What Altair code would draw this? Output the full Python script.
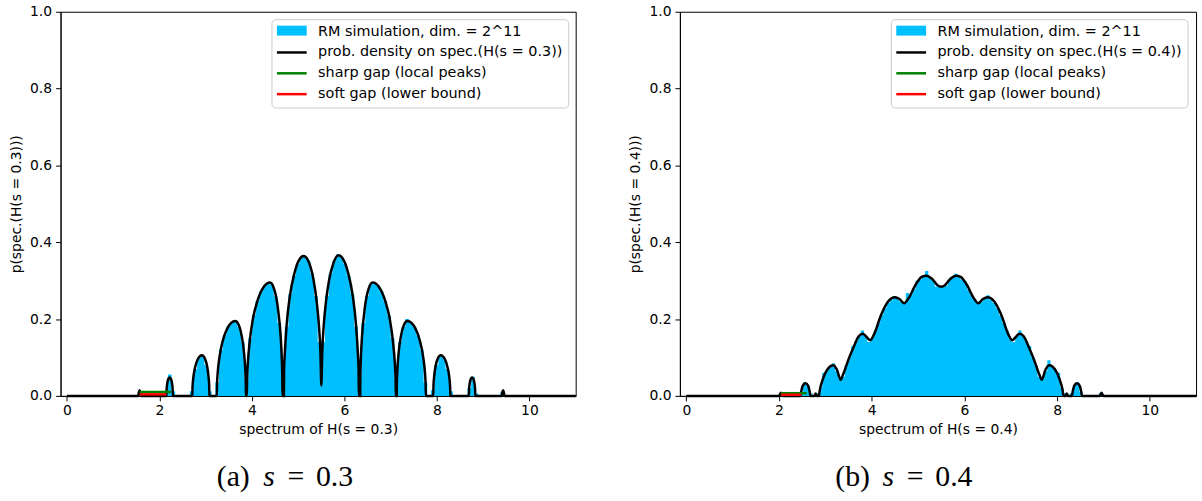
import altair as alt
import pandas as pd

# ---------------- panel (a): s = 0.3 ----------------
A_S = "0.3"
A_BIN_START = 1.55
A_BIN_WIDTH = 0.079
A_HIST = [
    0.006, 0, 0, 0, 0, 0, 0, 0.012, 0.056, 0.012,
    0, 0, 0, 0, 0.012, 0.07, 0.10, 0.104, 0.08, 0.012,
    0, 0.035, 0.12, 0.158, 0.18, 0.192, 0.196, 0.18, 0.14, 0.04,
    0.15, 0.21, 0.247, 0.272, 0.288, 0.294, 0.29, 0.26, 0.19, 0.05,
    0.18, 0.265, 0.313, 0.344, 0.36, 0.362, 0.352, 0.318, 0.26, 0.14,
    0.14, 0.26, 0.318, 0.352, 0.368, 0.362, 0.344, 0.313, 0.265, 0.18,
    0.05, 0.19, 0.26, 0.29, 0.294, 0.288, 0.272, 0.247, 0.21, 0.15,
    0.04, 0.14, 0.18, 0.20, 0.192, 0.18, 0.158, 0.12, 0.035, 0,
    0.015, 0.08, 0.104, 0.10, 0.07, 0.012, 0, 0, 0, 0,
    0.02, 0.05, 0.006, 0, 0, 0, 0, 0, 0, 0.01,
]
A_CURVE_X = [
    0.0, 1.54, 1.555, 1.57, 1.585, 1.60,
    2.15, 2.155, 2.17, 2.195, 2.22, 2.245, 2.27, 2.285, 2.29,
    2.71, 2.715, 2.73, 2.77, 2.83, 2.92, 2.98, 3.03, 3.06, 3.075, 3.08,
    3.24, 3.245, 3.26, 3.30, 3.37, 3.46, 3.55, 3.64, 3.72, 3.78, 3.83, 3.855, 3.868, 3.87,
    3.89, 3.895, 3.91, 3.95, 4.02, 4.12, 4.25, 4.39, 4.48, 4.56, 4.62, 4.645, 4.657, 4.66,
    4.69, 4.695, 4.71, 4.75, 4.82, 4.92, 5.02, 5.12, 5.24, 5.33, 5.40, 5.45, 5.48, 5.50,
    5.52, 5.55, 5.60, 5.67, 5.76, 5.87, 5.98, 6.08, 6.18, 6.25, 6.29, 6.305, 6.31,
    6.34, 6.343, 6.355, 6.38, 6.44, 6.52, 6.61, 6.75, 6.88, 6.98, 7.05, 7.09, 7.105, 7.11,
    7.13, 7.132, 7.145, 7.17, 7.22, 7.28, 7.36, 7.45, 7.54, 7.63, 7.70, 7.74, 7.755, 7.76,
    7.92, 7.925, 7.94, 7.97, 8.02, 8.08, 8.17, 8.23, 8.27, 8.285, 8.29,
    8.69, 8.695, 8.71, 8.735, 8.76, 8.785, 8.81, 8.825, 8.83,
    9.40, 9.415, 9.43, 9.445, 9.46, 11.0,
]
A_CURVE_Y = [
    0, 0, 0.010, 0.015, 0.010, 0,
    0, 0.018, 0.034, 0.045, 0.048, 0.045, 0.034, 0.018, 0,
    0, 0.023, 0.045, 0.074, 0.096, 0.106, 0.098, 0.077, 0.051, 0.026, 0,
    0, 0.031, 0.061, 0.103, 0.144, 0.174, 0.19, 0.195, 0.183, 0.155, 0.11, 0.069, 0.026, 0,
    0, 0.045, 0.083, 0.14, 0.20, 0.248, 0.283, 0.295, 0.278, 0.229, 0.155, 0.097, 0.044, 0,
    0, 0.07, 0.11, 0.185, 0.26, 0.32, 0.354, 0.364, 0.345, 0.303, 0.245, 0.18, 0.115, 0.027,
    0.115, 0.18, 0.245, 0.303, 0.345, 0.366, 0.354, 0.32, 0.26, 0.185, 0.11, 0.07, 0,
    0, 0.044, 0.097, 0.155, 0.229, 0.278, 0.295, 0.283, 0.248, 0.20, 0.14, 0.083, 0.045, 0,
    0, 0.026, 0.069, 0.11, 0.155, 0.183, 0.195, 0.19, 0.174, 0.144, 0.103, 0.061, 0.031, 0,
    0, 0.026, 0.051, 0.077, 0.098, 0.106, 0.096, 0.074, 0.045, 0.023, 0,
    0, 0.018, 0.034, 0.045, 0.048, 0.045, 0.034, 0.018, 0,
    0, 0.010, 0.015, 0.010, 0, 0,
]
A_SHARP_X = [1.57, 2.25]
A_SHARP_Y = [0.010, 0.010]
A_SOFT_X = [1.57, 2.15]
A_SOFT_Y = [0.004, 0.004]

# ---------------- panel (b): s = 0.4 ----------------
B_S = "0.4"
B_BIN_START = 2.03
B_BIN_WIDTH = 0.0694
B_HIST = [
    0.007, 0, 0, 0, 0, 0, 0.01, 0.035, 0.028, 0.007,
    0, 0.007, 0.022, 0.06, 0.068, 0.076, 0.085, 0.065, 0.045, 0.05,
    0.08, 0.10, 0.13, 0.142, 0.155, 0.17, 0.155, 0.14, 0.15, 0.17,
    0.19, 0.21, 0.228, 0.242, 0.25, 0.26, 0.254, 0.245, 0.243, 0.268,
    0.262, 0.277, 0.30, 0.303, 0.31, 0.325, 0.31, 0.302, 0.285, 0.285,
    0.285, 0.287, 0.302, 0.31, 0.318, 0.31, 0.303, 0.298, 0.277, 0.262,
    0.25, 0.243, 0.245, 0.254, 0.262, 0.25, 0.242, 0.228, 0.21, 0.19,
    0.17, 0.15, 0.14, 0.155, 0.17, 0.155, 0.142, 0.13, 0.10, 0.08,
    0.05, 0.045, 0.065, 0.093, 0.076, 0.068, 0.06, 0.022, 0.007, 0,
    0.007, 0.028, 0.035, 0.01, 0, 0, 0, 0, 0, 0.007,
]
B_CURVE_X = [
    0.0, 2.00, 2.02, 2.04, 2.06, 2.08,
    2.46, 2.48, 2.51, 2.57, 2.63, 2.66, 2.68,
    2.76, 2.79, 2.82, 2.86,
    2.88, 2.95, 3.05, 3.17, 3.25, 3.33, 3.38, 3.50, 3.62, 3.72, 3.81, 3.90, 3.97,
    4.05, 4.20, 4.35, 4.50, 4.60, 4.70, 4.80, 4.95, 5.08, 5.18, 5.30, 5.42, 5.50,
    5.58, 5.70, 5.82, 5.92, 6.05, 6.20, 6.30, 6.40, 6.50, 6.65, 6.80, 6.95, 7.03,
    7.10, 7.19, 7.28, 7.38, 7.50, 7.62, 7.67, 7.75, 7.83, 7.95, 8.05, 8.12, 8.14,
    8.18, 8.21, 8.24, 8.32, 8.34, 8.37, 8.43, 8.49, 8.52, 8.54,
    8.92, 8.94, 8.96, 8.98, 9.00, 11.0,
]
B_CURVE_Y = [
    0, 0, 0.004, 0.008, 0.004, 0,
    0, 0.012, 0.026, 0.033, 0.026, 0.012, 0,
    0, 0.006, 0, 0,
    0.015, 0.045, 0.07, 0.08, 0.068, 0.042, 0.055, 0.095, 0.13, 0.155, 0.162, 0.152, 0.145,
    0.16, 0.21, 0.245, 0.257, 0.252, 0.241, 0.255, 0.29, 0.31, 0.313, 0.305, 0.288, 0.284,
    0.288, 0.305, 0.313, 0.31, 0.29, 0.255, 0.241, 0.252, 0.257, 0.245, 0.21, 0.16, 0.145,
    0.152, 0.162, 0.155, 0.13, 0.095, 0.055, 0.042, 0.068, 0.08, 0.07, 0.045, 0.015, 0,
    0, 0.006, 0, 0, 0.012, 0.026, 0.033, 0.026, 0.012, 0,
    0, 0.004, 0.008, 0.004, 0, 0,
]
B_SHARP_X = [2.04, 2.60]
B_SHARP_Y = [0.007, 0.007]
B_SOFT_X = [2.04, 2.48]
B_SOFT_Y = [0.003, 0.003]

LEGEND_LABELS = [
    "RM simulation, dim. = 2^11",
    "prob. density on spec.(H(s = {s}))",
    "sharp gap (local peaks)",
    "soft gap (lower bound)",
]
X_TICKS = [0, 2, 4, 6, 8, 10]
Y_TICKS = [0.0, 0.2, 0.4, 0.6, 0.8, 1.0]
X_DOMAIN = [-0.139, 11.0]
Y_DOMAIN = [0.0, 1.0]

BLUE = "#00BFFF"
FONT = "DejaVu Sans"
H = 387


def panel(letter, s, bin_start, bin_width, hist, cx, cy, shx, shy, sox, soy, width):
    n = len(hist)
    # step outline of the histogram: each bin start, plus the closing edge
    hist_df = pd.DataFrame({
        "x": [bin_start + i * bin_width for i in range(n + 1)],
        "y": list(hist) + [hist[-1]],
    })
    curve_df = pd.DataFrame({"x": cx, "y": cy})
    sharp_df = pd.DataFrame({"x": shx, "y": shy})
    soft_df = pd.DataFrame({"x": sox, "y": soy})
    dummy = pd.DataFrame({"d": [0]})

    xscale = alt.Scale(domain=X_DOMAIN, nice=False, zero=False)
    yscale = alt.Scale(domain=Y_DOMAIN, nice=False, zero=False)
    xtitle = f"spectrum of H(s = {s})"
    ytitle = f"p(spec.(H(s = {s})))"
    xaxis = alt.Axis(values=X_TICKS, format="d", title=xtitle)
    yaxis = alt.Axis(values=Y_TICKS, format=".1f", title=ytitle)

    def X():
        return alt.X("x:Q", scale=xscale, axis=xaxis, title=xtitle)

    def Y():
        return alt.Y("y:Q", scale=yscale, axis=yaxis, title=ytitle)

    bars = alt.Chart(hist_df).mark_area(
        color=BLUE, interpolate="step-after", opacity=1
    ).encode(x=X(), y=Y())

    curve = alt.Chart(curve_df).mark_line(
        color="black", strokeWidth=2.5, interpolate="monotone"
    ).encode(x=X(), y=Y())

    sharp = alt.Chart(sharp_df).mark_line(color="green", strokeWidth=2.5).encode(x=X(), y=Y())
    soft = alt.Chart(soft_df).mark_line(color="red", strokeWidth=2.5).encode(x=X(), y=Y())

    # legend (drawn inside the plot, upper right)
    box = alt.Chart(dummy).mark_rect(
        fill="white", fillOpacity=0.8, stroke="#cccccc", strokeWidth=1, cornerRadius=4
    ).encode(x=alt.value(213), x2=alt.value(512), y=alt.value(8), y2=alt.value(97))
    patch = alt.Chart(dummy).mark_rect(color=BLUE).encode(
        x=alt.value(218), x2=alt.value(248), y=alt.value(14), y2=alt.value(24))
    leg_lines = []
    for col, yy in [("black", 41), ("green", 62), ("red", 83)]:
        leg_lines.append(alt.Chart(dummy).mark_rule(color=col, strokeWidth=2.5).encode(
            x=alt.value(218), x2=alt.value(248), y=alt.value(yy)))
    leg_texts = []
    for lab, yy in zip(LEGEND_LABELS, [20, 41, 62, 83]):
        leg_texts.append(alt.Chart(dummy).mark_text(
            align="left", baseline="middle", font=FONT, fontSize=14.5, color="black"
        ).encode(x=alt.value(259.5), y=alt.value(yy), text=alt.value(lab.format(s=s))))

    # sub-caption
    cap = []
    for txt, xx, style in [(f"({letter})", 174, "normal"), ("s", 210, "italic"),
                           ("=", 237, "normal"), (s, 276, "normal")]:
        cap.append(alt.Chart(dummy).mark_text(
            align="center", baseline="alphabetic", font="Liberation Serif",
            fontSize=30, fontStyle=style, color="black"
        ).encode(x=alt.value(xx), y=alt.value(478), text=alt.value(txt)))

    return alt.layer(bars, curve, sharp, soft, box, patch, *leg_lines, *leg_texts, *cap).properties(
        width=width, height=H)


left = panel("a", A_S, A_BIN_START, A_BIN_WIDTH, A_HIST, A_CURVE_X, A_CURVE_Y,
             A_SHARP_X, A_SHARP_Y, A_SOFT_X, A_SOFT_Y, 519)
right = panel("b", B_S, B_BIN_START, B_BIN_WIDTH, B_HIST, B_CURVE_X, B_CURVE_Y,
              B_SHARP_X, B_SHARP_Y, B_SOFT_X, B_SOFT_Y, 520)

chart = alt.hconcat(left, right, spacing=47).properties(
    padding={"left": 9, "top": 2, "right": 0, "bottom": 0},
    background="white",
).configure_view(
    stroke="black", strokeWidth=1
).configure_axis(
    grid=False,
    domainColor="black", domainWidth=1,
    tickColor="black", tickWidth=1, tickSize=5,
    labelFont=FONT, labelFontSize=14, labelColor="black", labelPadding=3,
    titleFont=FONT, titleFontSize=14, titleColor="black", titleFontWeight="normal",
).configure_axisY(
    titlePadding=6, labelPadding=4,
).configure_axisX(
    titlePadding=5,
)

chart.save("out.html", embed_options={"renderer": "svg", "actions": False})
